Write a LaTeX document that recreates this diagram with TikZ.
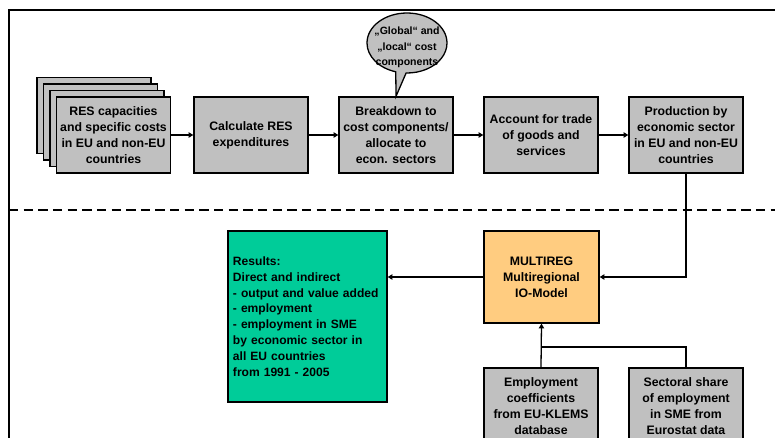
\documentclass[tikz,border=0pt]{standalone}
\usepackage{fontspec}
\setmainfont{Liberation Sans}
\usetikzlibrary{arrows.meta,shapes.callouts,positioning}
\definecolor{boxgray}{HTML}{C0C0C0}
\definecolor{resgreen}{HTML}{00CC99}
\definecolor{ioorange}{HTML}{FFCC80}
\tikzset{
  stepbox/.style={draw, line width=1.1pt, fill=boxgray, minimum width=3.42cm,
    minimum height=2.28cm, align=center, inner sep=1pt,
    font=\bfseries\fontsize{10.5}{13.5}\selectfont},
  flow/.style={line width=1.1pt, -{Triangle[length=4pt,width=4.5pt]}},
  link/.style={line width=1.1pt},
}
\begin{document}
\begin{tikzpicture}[x=0.03cm,y=-0.03cm]
\clip (0,0) rectangle (775,437);

% frame and divider
\draw[line width=2.2pt] (9,440) -- (9,10) -- (775,10);
\draw[line width=1.2pt, dash pattern=on 8pt off 4.5pt] (9,210) -- (775,210);

% upper row
\foreach \k in {3,2,1}
  \node[stepbox] (back\k) at (113.5-6.5*\k,135-6.5*\k) {};
\node[stepbox] (res) at (113.5,135) {RES capacities\\and specific costs\\in EU and non-EU\\countries};
\node[stepbox] (calc) at (251,135) {Calculate RES\\expenditures};
\node[stepbox] (brk) at (396,135) {Breakdown to\\cost components/\\allocate to\\econ. sectors};
\node[stepbox] (acct) at (541,135) {Account for trade\\of goods and\\services};
\node[stepbox] (prod) at (686,135) {Production by\\economic sector\\in EU and non-EU\\countries};

\node[ellipse callout, draw, line width=1.1pt, fill=boxgray, minimum width=2.4cm,
  minimum height=1.8cm, inner sep=0pt, callout absolute pointer={(brk.north)},
  label={[align=center, yshift=-3.8pt, font=\bfseries\fontsize{9}{13.2}\selectfont]center:„Global“ and\\„local“ cost\\components}]
  (note) at (407,43) {};

\draw[flow] (res) -- (calc);
\draw[flow] (calc) -- (brk);
\draw[flow] (brk) -- (acct);
\draw[flow] (acct) -- (prod);

% lower part
\node[stepbox, fill=ioorange, minimum width=3.45cm, minimum height=2.76cm] (io) at (541.5,277)
  {MULTIREG\\Multiregional\\IO-Model};
\node[stepbox, fill=resgreen, minimum width=4.77cm, minimum height=5.13cm, text width=4.47cm,
  inner xsep=0.15cm, align=left, font=\bfseries\fontsize{10.3}{13.5}\selectfont] (results) at (307.5,316.5)
  {Results:\\Direct and indirect\\- output and value added\\- employment\\- employment in SME\\by economic sector in\\all EU countries\\from 1991 - 2005};
\node[stepbox] (emp) at (541,406) {Employment\\coefficients\\from EU-KLEMS\\database};
\node[stepbox] (share) at (686,406) {Sectoral share\\of employment\\in SME from\\Eurostat data};

\coordinate (join) at (541,347);
\draw[flow] (prod.south) |- (io.east);
\draw[flow] (io.west) -- (results.east |- io.west);
\draw[flow] (emp.north) -- (io.south);
\draw[link] (share.north) |- (join);

\end{tikzpicture}
\end{document}
